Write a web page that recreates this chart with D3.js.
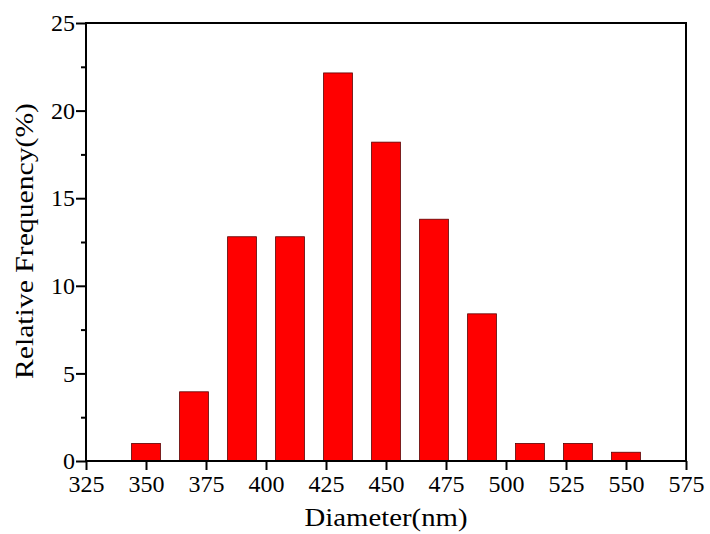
<!DOCTYPE html>
<html>
<head>
<meta charset="utf-8">
<script src="https://cdn.jsdelivr.net/npm/d3@7"></script>
<style>
  body { margin: 0; background: #fff; }
  svg text { font-family: "Liberation Serif", "Times New Roman", serif; fill: #000; }
</style>
</head>
<body>
<svg id="chart" width="710" height="534"></svg>
<script>
// bin centres (nm) and relative frequency (%)
var diameters = [350, 370, 390, 410, 430, 450, 470, 490, 510, 530, 550];
var frequency = [1.0, 3.95, 12.8, 12.8, 22.15, 18.2, 13.8, 8.4, 1.0, 1.0, 0.5];
var xTicks = [325, 350, 375, 400, 425, 450, 475, 500, 525, 550, 575];
var yTicks = [0, 5, 10, 15, 20, 25];
var yMinor = [2.5, 7.5, 12.5, 17.5, 22.5];
var binWidth = 12;

var svg = d3.select("#chart"),
    margins = {"left": 86, "right": 24, "top": 23, "bottom": 73},
    width = +svg.attr("width"),
    height = +svg.attr("height");

var x = d3.scaleLinear().domain([325, 575]).range([margins.left, width - margins.right]),
    y = d3.scaleLinear().domain([0, 25]).range([height - margins.bottom, margins.top]);

var data = diameters.map((d, i) => ({"d": d, "f": frequency[i]}));

svg.append("g").selectAll("rect")
    .data(data)
    .enter().append("rect")
    .attr("x", d => x(d.d - binWidth / 2))
    .attr("width", d => x(d.d + binWidth / 2) - x(d.d - binWidth / 2))
    .attr("y", d => y(d.f))
    .attr("height", d => y(0) - y(d.f))
    .attr("fill", "#ff0000")
    .attr("stroke", "#5a0000")
    .attr("stroke-width", 0.8);

// frame
svg.append("rect")
    .attr("x", x(325)).attr("y", y(25))
    .attr("width", x(575) - x(325)).attr("height", y(0) - y(25))
    .attr("fill", "none").attr("stroke", "#000").attr("stroke-width", 2);

var xaxis = svg.append("g").attr("transform", "translate(" + [0, y(0)] + ")")
    .call(d3.axisBottom(x).tickValues(xTicks).tickSize(9).tickPadding(5).tickFormat(d3.format("d")));
var yaxis = svg.append("g").attr("transform", "translate(" + [x(325), 0] + ")")
    .call(d3.axisLeft(y).tickValues(yTicks).tickSize(10).tickPadding(1).tickFormat(d3.format("d")));
svg.append("g").attr("transform", "translate(" + [x(325), 0] + ")")
    .call(d3.axisLeft(y).tickValues(yMinor).tickSize(5).tickFormat(""))
    .call(g => g.select(".domain").remove());

svg.selectAll(".domain").remove();
svg.selectAll(".tick line").attr("stroke", "#000").attr("stroke-width", 2);
xaxis.selectAll("text").style("font-size", "24px");
yaxis.selectAll("text").style("font-size", "24px");

svg.append("text")
    .attr("x", (x(325) + x(575)) / 2).attr("y", 526)
    .attr("text-anchor", "middle").style("font-size", "26px")
    .attr("textLength", 163).attr("lengthAdjust", "spacingAndGlyphs")
    .text("Diameter(nm)");

svg.append("text")
    .attr("transform", "translate(33,241) rotate(-90)")
    .attr("text-anchor", "middle").style("font-size", "25px")
    .attr("textLength", 276).attr("lengthAdjust", "spacingAndGlyphs")
    .text("Relative Frequency(%)");
</script>
</body>
</html>
